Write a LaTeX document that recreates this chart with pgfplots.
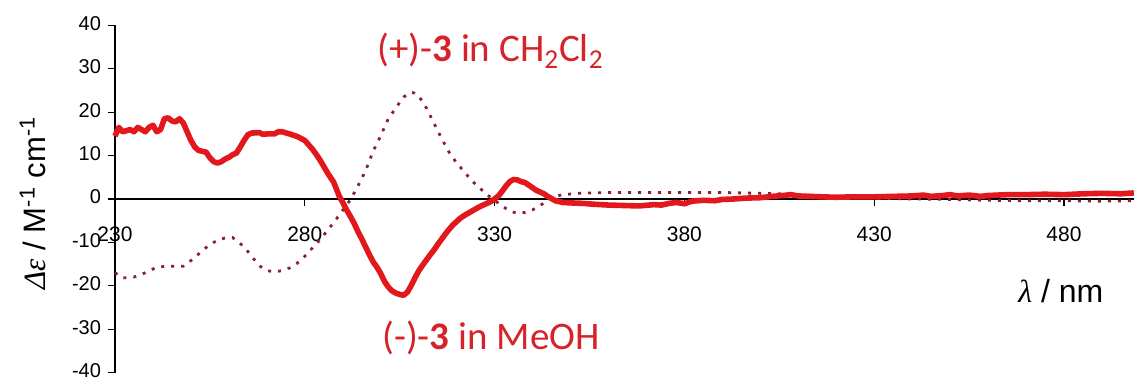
\documentclass[border=0pt]{standalone}
\usepackage{pgfplots}
\pgfplotsset{compat=1.18}
\usepackage{fontspec}
\setmainfont{Liberation Sans}
\newfontfamily\calib{Carlito}
\newfontfamily\tms{Liberation Serif}
\definecolor{solidred}{RGB}{226,24,28}
\definecolor{dotred}{RGB}{135,34,46}
\definecolor{txtred}{RGB}{214,34,40}
\begin{document}
\begin{tikzpicture}
\begin{axis}[
  x=1.898pt, y=2.169pt,
  xmin=230, xmax=498.4, ymin=-40, ymax=40,
  axis x line=middle, axis y line=left,
  axis line style={-, black, line width=0.6pt},
  hide obscured x ticks=false, hide obscured y ticks=false,
  xtick={230,280,...,480}, ytick={-40,-30,...,40},
  tick align=outside, major tick length=3.5pt,
  tick style={black, line width=0.6pt},
  /pgf/number format/assume math mode=true,
  xticklabel style={font=\fontsize{10.5}{12}\selectfont, yshift=-7pt},
  yticklabel style={font=\fontsize{10}{12}\selectfont, inner ysep=0.5pt, yshift=1pt},
  clip=false,
]
\addplot[dotred, line width=1.4pt, dash pattern=on 1.5pt off 3.5pt] coordinates {
(230,-17) (232,-18.2) (235,-18) (238,-17) (241,-15.7) (244,-15.5) (248,-15.5)
(250,-14.2) (252,-12.7) (254,-11.2) (256,-10) (258,-9.2) (260,-8.8) (261,-8.9)
(262,-9.6) (264,-11) (266,-13.2) (268,-15.4) (270,-16.5) (272,-16.8) (274,-16.5)
(276,-15.9) (278,-14.8) (280,-13.2) (282,-11.3) (284,-9.4) (286,-7.2) (288,-5)
(290,-2.6) (292,-0.2) (294,3) (296,6.5) (298,11) (300,14.6) (302,18.5) (304,21)
(306,23.5) (308,24.6) (309,24.4) (310,23.8) (312,21) (314,17.5) (316,14)
(318,10.8) (320,8.3) (322,6.3) (324,4.2) (326,2.6) (328,1) (330,-0.3) (332,-1.6)
(334,-2.8) (336,-3.3) (338,-3.1) (340,-2.5) (342,-1.5) (344,-0.3) (346,0.6)
(348,1.0) (352,1.3) (360,1.5) (370,1.5) (380,1.5) (390,1.5) (400,1.3) (405,1.2)
(410,1.0) (415,0.8) (420,0.5) (425,0.3) (430,0.2) (440,0) (450,-0.1) (460,-0.3)
(470,-0.4) (480,-0.4) (490,-0.5) (498.4,-0.4)
};
\addplot[solidred, line width=2.8pt, line join=round] coordinates {
(230,14.5) (231,16.5) (232,15.5) (234,16) (235,15.5) (236,16.5) (238,15.5)
(239,16.5) (240,17) (241,15.5) (242,16) (243,18.5) (244,18.7) (245,18) (246,17.8)
(247,18.5) (248,17.5) (249,15.5) (250,13.5) (251,12) (252,11.2) (253,11)
(254,10.8) (255,9.5) (256,8.6) (257,8.3) (258,8.6) (259,9.2) (260,9.6) (261,10.2)
(262,10.6) (263,12) (264,13.5) (265,14.8) (266,15.2) (268,15.3) (269,14.9)
(270,15) (272,15) (273,15.5) (274,15.5) (276,15) (278,14.4) (280,13.5) (282,11.5)
(283,10.3) (284,9) (286,6) (287.6,3.9) (289,0.8) (290,-0.8) (291,-2.5) (292,-4)
(293,-5.6) (294,-7.5) (295,-9.2) (296,-11) (297,-12.8) (298,-14.5) (299,-15.7)
(300,-17.2) (301,-19) (302,-20.3) (303,-21.2) (304,-21.7) (305,-22) (306,-22.2)
(307,-21.5) (308,-20) (309,-18.2) (310,-16.6) (311,-15.3) (312,-14.1)
(313,-12.9) (314,-11.8) (315,-10.5) (316,-9.3) (317,-8.1) (318,-7) (319,-6)
(320,-5.2) (321,-4.4) (322,-3.8) (323,-3.3) (324,-2.8) (325,-2.3) (326,-1.8)
(327,-1.4) (328,-1) (329,-0.6) (330,0) (331,0.7) (332,1.8) (333,3) (334,4)
(335,4.5) (336,4.4) (337,4.0) (338,3.8) (339,3.2) (340,2.6) (341,2.0) (342,1.6)
(343,1.2) (344,0.6) (345,0.1) (346,-0.4) (348,-0.8) (350,-0.9) (353,-1)
(356,-1.2) (360,-1.4) (364,-1.5) (368,-1.6) (372,-1.3) (374,-1.4) (376,-1)
(378,-0.8) (380,-1.1) (382,-0.5) (385,-0.3) (388,-0.4) (390,-0.1) (393,0)
(396,0.2) (400,0.3) (403,0.6) (406,0.8) (408,1) (410,0.7) (413,0.6) (416,0.5)
(420,0.4) (425,0.5) (430,0.5) (435,0.6) (440,0.7) (443,0.9) (445,0.6) (448,0.8)
(450,1.0) (452,0.7) (455,0.9) (458,0.6) (460,0.8) (465,1.0) (470,1.0) (475,1.1)
(480,1.0) (485,1.2) (490,1.3) (495,1.2) (498.4,1.4)
};
\coordinate (O) at (axis cs:230,0);
\end{axis}
\node[rotate=90, anchor=base, font=\fontsize{15.5}{18}\selectfont, inner sep=0pt]
  at ([shift={(-35pt,-2pt)}]O) {{\tms\itshape Δε} / M\textsuperscript{-1} cm\textsuperscript{-1}};
\node[anchor=base west, font=\fontsize{16}{18}\selectfont, inner sep=0pt]
  at ([shift={(451.5pt,-52pt)}]O) {{\tms\itshape λ} / nm};
\node[anchor=base west, text=txtred, font=\calib\fontsize{19.5}{22}\selectfont, inner sep=0pt]
  at ([shift={(131pt,68.5pt)}]O) {(+)-\textbf{3} in CH\textsubscript{2}Cl\textsubscript{2}};
\node[anchor=base west, text=txtred, font=\calib\fontsize{19.5}{22}\selectfont, inner sep=0pt]
  at ([shift={(133.5pt,-75.5pt)}]O) {(-)-\textbf{3} in MeOH};
\pgfresetboundingbox
\path ([shift={(-57.5pt,-90pt)}]O) rectangle ([shift={(509.5pt,99.5pt)}]O);
\end{tikzpicture}
\end{document}
